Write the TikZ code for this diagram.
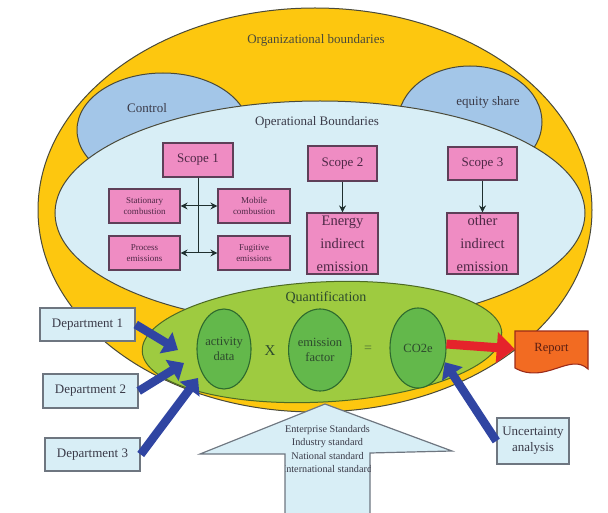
\documentclass[tikz,border=0pt]{standalone}
\usepackage{fontspec}
\setmainfont{Liberation Serif}
\usetikzlibrary{arrows.meta,shapes.geometric}

\definecolor{orgyellow}{HTML}{FDC70F}
\definecolor{opblue}{HTML}{D8EEF6}
\definecolor{ctrlblue}{HTML}{A3C6E8}
\definecolor{scopepink}{HTML}{EF8CC3}
\definecolor{pinkedge}{HTML}{5E3F58}
\definecolor{pinkink}{HTML}{4E2846}
\definecolor{quantgreen}{HTML}{9ECB40}
\definecolor{quantedge}{HTML}{4C6A24}
\definecolor{factgreen}{HTML}{63B84B}
\definecolor{factedge}{HTML}{2E6A2E}
\definecolor{factink}{HTML}{2D4A2D}
\definecolor{deptblue}{HTML}{D8EEF6}
\definecolor{deptedge}{HTML}{6E7680}
\definecolor{flowblue}{HTML}{3045A2}
\definecolor{flowred}{HTML}{E5232B}
\definecolor{reportorange}{HTML}{F26B22}
\definecolor{reportedge}{HTML}{9B2B1A}
\definecolor{reportink}{HTML}{5A1E12}
\definecolor{edgedark}{HTML}{4A4A3A}
\definecolor{inkgray}{HTML}{3A3A48}
\definecolor{tieink}{HTML}{1F2F2F}

\tikzset{
  pinkbox/.style={draw=pinkedge, fill=scopepink, line width=1.1pt, inner sep=0pt,
    text=pinkink, align=center},
  scopebox/.style={pinkbox, minimum width=70pt, minimum height=34pt,
    font=\fontsize{13}{15}\selectfont},
  subbox/.style={pinkbox, minimum width=71pt, minimum height=34pt,
    font=\fontsize{9}{11.5}\selectfont},
  indbox/.style={pinkbox, minimum width=71pt, minimum height=61pt,
    font=\fontsize{14.5}{23}\selectfont},
  deptbox/.style={draw=deptedge, fill=deptblue, line width=1.4pt, inner sep=0pt,
    minimum width=95pt, minimum height=33pt, text=inkgray, align=center,
    font=\fontsize{13}{15}\selectfont},
  factor/.style={ellipse, draw=factedge, fill=factgreen, line width=1.1pt,
    minimum width=54pt, minimum height=80pt, inner sep=0pt, align=center,
    text=factink, font=\fontsize{12.5}{15}\selectfont},
  caption/.style={inner sep=0pt, text=inkgray, font=\fontsize{13}{15}\selectfont},
  tie/.style={draw=tieink, line width=1pt},
  tiearrow/.style={tie, {Stealth[length=7pt,width=7pt]}-{Stealth[length=7pt,width=7pt]}},
  downarrow/.style={tie, -{Stealth[length=7pt,width=7pt]}},
  flow/.style={draw=flowblue, line width=8.5pt, -{Triangle[length=14pt,width=24pt]}},
  hotflow/.style={draw=flowred, line width=9pt, -{Triangle[length=18pt,width=30pt]}},
}

\begin{document}
\begin{tikzpicture}[x=1pt,y=-1pt]
\useasboundingbox (0,0) rectangle (608,513);

% organizational boundary with the two approaches
\draw[fill=orgyellow, draw=edgedark, line width=1pt]
  (315,210) ellipse [x radius=277, y radius=202];
\draw[fill=ctrlblue, draw=edgedark, line width=1pt]
  (163,130) ellipse [x radius=86, y radius=57];
\draw[fill=ctrlblue, draw=edgedark, line width=1pt]
  (470,122) ellipse [x radius=72, y radius=56];
% operational boundary
\draw[fill=opblue, draw=edgedark, line width=1pt]
  (320,213) ellipse [x radius=265, y radius=112];

\node[caption, text=edgedark] (orgtitle) at (316,40) {Organizational boundaries};
\node[caption, text=inkgray] (control) at (147,108) {Control};
\node[caption, text=inkgray] (equity) at (488,102) {equity share};
\node[caption] (optitle) at (317,122) {Operational Boundaries};

% scopes
\node[scopebox] (s1) at (198,160) {Scope 1};
\node[scopebox, minimum width=69pt, minimum height=35pt] (s2) at (342.5,163.5) {Scope 2};
\node[scopebox, minimum width=69pt, minimum height=33pt] (s3) at (482.5,163.5) {Scope 3};

\node[subbox] (stat) at (144.5,206) {Stationary\\combustion};
\node[subbox, minimum width=72pt] (mob) at (254,206) {Mobile\\combustion};
\node[subbox] (proc) at (144.5,253) {Process\\emissions};
\node[subbox, minimum width=72pt] (fug) at (254,253) {Fugitive\\emissions};

\node[indbox] (en) at (342.5,243.5) {Energy\\indirect\\emission};
\node[indbox] (oth) at (482.5,243.5) {other\\indirect\\emission};

\draw[tie] (s1.south) -- (s1.south |- proc.east);
\draw[tiearrow] (stat.east) -- (mob.west);
\draw[tiearrow] (proc.east) -- (fug.west);
\draw[downarrow] (s2.south) -- (en.north);
\draw[downarrow] (s3.south) -- (oth.north);

% quantification
\draw[fill=quantgreen, draw=quantedge, line width=1pt, rotate around={3:(322,342)}]
  (322,342) ellipse [x radius=180, y radius=60];
\node[caption, text=factink, font=\fontsize{14}{16}\selectfont] (qtitle) at (326,298) {Quantification};
\node[factor] (act) at (224,349) {activity\\data};
\node[factor, minimum height=82pt] (emf) at (320,350) {emission\\factor};
\node[factor, minimum width=56pt] (co2) at (418,348) {CO2e};
\node[caption, text=factink, font=\fontsize{15}{17}\selectfont] (times) at (270,351) {X};
\node[caption, text=factink!70!quantgreen, font=\fontsize{14}{16}\selectfont] (equals) at (368,349) {=};

% standards feeding the emission factor
\draw[fill=deptblue, draw=deptedge, line width=1.2pt]
  (325,404) -- (452,451) -- (370,453) -- (370,520) -- (285,520) -- (285,454)
  -- (200,454) -- cycle;
\begin{scope}
  \clip (325,404) -- (452,451) -- (370,453) -- (370,520) -- (285,520) -- (285,454)
    -- (200,454) -- cycle;
  \node[inner sep=0pt, align=center, text=inkgray,
        font=\fontsize{10.2}{13.3}\selectfont] (stds) at (327.5,449)
    {Enterprise Standards\\Industry standard\\National standard\\International standard};
\end{scope}

% data sources
\node[deptbox] (d1) at (87.5,324.5) {Department 1};
\node[deptbox, minimum height=34pt] (d2) at (90.5,391) {Department 2};
\node[deptbox] (d3) at (92.5,454.5) {Department 3};
\node[deptbox, minimum width=72pt, minimum height=46pt,
      font=\fontsize{13}{16}\selectfont] (unc) at (533,441) {Uncertainty\\analysis};

\coordinate (d1tip) at (178,350);
\coordinate (d2tip) at (184,363);
\coordinate (d3tip) at (198,378);

\draw[flow] (d1.east) -- (d1tip);
\draw[flow] (d2.east) -- (d2tip);
\draw[flow] (d3.east) -- (d3tip);
\draw[flow] (unc.west) -- (co2.-28);

% report
\draw[fill=reportorange, draw=reportedge, line width=1.1pt]
  (515,331) -- (588,331) -- (588,369)
  .. controls (570,352) and (545,385) .. (515,368) -- cycle;
\node[inner sep=0pt, minimum width=73pt, minimum height=42pt,
      text=reportink, font=\fontsize{12.5}{15}\selectfont] (report) at (551.5,349) {Report};

\draw[hotflow] (co2.8) -- (report.west);
\end{tikzpicture}
\end{document}
